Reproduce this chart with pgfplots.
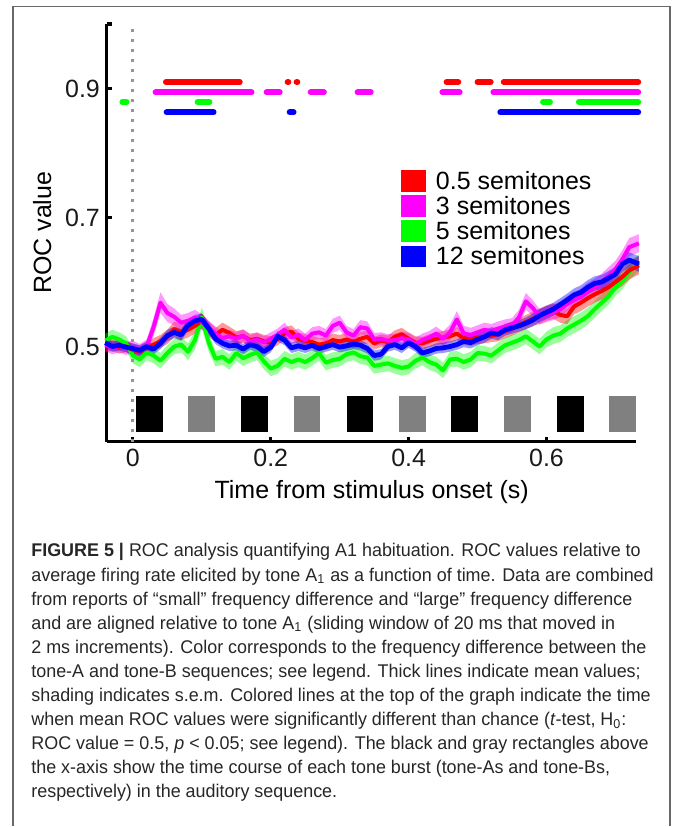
\documentclass[border=0pt]{standalone}
\usepackage{fontspec}
\setmainfont{Liberation Sans}
\newfontfamily\capfont{Liberation Sans}[FakeStretch=0.975]
\usepackage{pgfplots}
\usepackage{pgfplotstable}
\pgfplotsset{compat=1.18}
\usepgfplotslibrary{fillbetween}

\definecolor{cRed}{RGB}{255,0,0}
\definecolor{cMag}{RGB}{255,0,255}
\definecolor{cGrn}{RGB}{0,255,0}
\definecolor{cBlu}{RGB}{0,0,255}
\definecolor{toneB}{RGB}{128,128,128}
\definecolor{dotg}{RGB}{150,150,150}
\definecolor{frameg}{RGB}{105,105,105}

% mean ROC (r,m,g,b) and s.e.m. (re,me,ge,be)
\pgfplotstableread{
x      r     re    m     me    g     ge    b     be
-0.04  0.500 0.009 0.503 0.010 0.509 0.011 0.506 0.008
-0.03  0.502 0.009 0.498 0.010 0.515 0.011 0.500 0.008
-0.02  0.498 0.009 0.501 0.010 0.511 0.011 0.502 0.008
-0.01  0.500 0.009 0.497 0.010 0.505 0.011 0.499 0.008
0.00   0.495 0.009 0.499 0.010 0.486 0.012 0.497 0.008
0.01   0.492 0.009 0.494 0.010 0.480 0.012 0.494 0.008
0.02   0.498 0.009 0.500 0.011 0.491 0.012 0.500 0.008
0.03   0.503 0.010 0.530 0.014 0.486 0.012 0.496 0.008
0.04   0.508 0.010 0.568 0.016 0.478 0.012 0.505 0.009
0.05   0.515 0.011 0.552 0.014 0.490 0.012 0.517 0.009
0.06   0.527 0.012 0.546 0.013 0.500 0.012 0.522 0.009
0.07   0.522 0.012 0.537 0.012 0.503 0.012 0.518 0.009
0.08   0.526 0.012 0.540 0.012 0.492 0.013 0.533 0.009
0.09   0.532 0.012 0.545 0.012 0.510 0.014 0.540 0.009
0.10   0.540 0.012 0.538 0.012 0.545 0.016 0.542 0.009
0.11   0.527 0.012 0.529 0.011 0.506 0.014 0.528 0.009
0.12   0.518 0.011 0.520 0.011 0.481 0.012 0.512 0.008
0.13   0.526 0.011 0.513 0.010 0.484 0.012 0.505 0.008
0.14   0.521 0.010 0.516 0.010 0.476 0.012 0.501 0.008
0.15   0.514 0.010 0.512 0.010 0.490 0.012 0.502 0.008
0.16   0.516 0.010 0.517 0.010 0.482 0.012 0.496 0.008
0.17   0.510 0.010 0.508 0.010 0.487 0.012 0.503 0.008
0.18   0.512 0.010 0.511 0.010 0.491 0.012 0.500 0.008
0.19   0.508 0.010 0.506 0.010 0.477 0.012 0.492 0.008
0.20   0.506 0.010 0.512 0.010 0.466 0.012 0.499 0.008
0.21   0.512 0.010 0.518 0.010 0.470 0.012 0.516 0.008
0.22   0.520 0.010 0.526 0.011 0.481 0.012 0.510 0.008
0.23   0.523 0.010 0.514 0.010 0.476 0.012 0.498 0.008
0.24   0.512 0.010 0.518 0.010 0.480 0.012 0.501 0.008
0.25   0.509 0.010 0.510 0.010 0.476 0.012 0.498 0.008
0.26   0.507 0.010 0.520 0.010 0.482 0.012 0.502 0.008
0.27   0.503 0.010 0.522 0.010 0.490 0.012 0.497 0.008
0.28   0.505 0.010 0.517 0.010 0.475 0.012 0.500 0.008
0.29   0.510 0.010 0.532 0.011 0.479 0.012 0.503 0.008
0.30   0.508 0.010 0.537 0.011 0.481 0.012 0.499 0.008
0.31   0.511 0.010 0.522 0.010 0.488 0.012 0.501 0.008
0.32   0.507 0.010 0.517 0.010 0.491 0.012 0.504 0.008
0.33   0.512 0.010 0.530 0.011 0.485 0.012 0.502 0.008
0.34   0.515 0.010 0.528 0.011 0.483 0.012 0.497 0.008
0.35   0.505 0.010 0.511 0.010 0.470 0.012 0.486 0.008
0.36   0.509 0.010 0.512 0.010 0.472 0.012 0.488 0.008
0.37   0.507 0.010 0.509 0.010 0.474 0.012 0.500 0.008
0.38   0.515 0.010 0.510 0.010 0.470 0.012 0.503 0.008
0.39   0.519 0.010 0.513 0.010 0.467 0.012 0.498 0.008
0.40   0.512 0.010 0.511 0.010 0.469 0.012 0.506 0.008
0.41   0.506 0.010 0.504 0.010 0.478 0.012 0.500 0.008
0.42   0.505 0.010 0.510 0.010 0.483 0.012 0.490 0.008
0.43   0.509 0.010 0.514 0.010 0.476 0.012 0.493 0.008
0.44   0.512 0.010 0.520 0.011 0.472 0.012 0.497 0.008
0.45   0.514 0.010 0.512 0.011 0.463 0.012 0.498 0.008
0.46   0.516 0.010 0.522 0.012 0.480 0.012 0.500 0.008
0.47   0.520 0.010 0.542 0.013 0.481 0.012 0.503 0.008
0.48   0.513 0.010 0.520 0.012 0.476 0.012 0.508 0.009
0.49   0.511 0.010 0.518 0.011 0.480 0.012 0.506 0.009
0.50   0.514 0.010 0.522 0.011 0.490 0.012 0.511 0.009
0.51   0.515 0.010 0.526 0.011 0.489 0.012 0.515 0.009
0.52   0.517 0.010 0.524 0.011 0.486 0.012 0.521 0.009
0.53   0.519 0.011 0.528 0.011 0.494 0.012 0.519 0.009
0.54   0.524 0.011 0.531 0.011 0.502 0.012 0.526 0.009
0.55   0.528 0.011 0.533 0.011 0.506 0.012 0.529 0.009
0.56   0.533 0.011 0.545 0.012 0.510 0.012 0.532 0.009
0.57   0.538 0.011 0.570 0.013 0.516 0.012 0.536 0.009
0.58   0.543 0.011 0.560 0.012 0.508 0.012 0.541 0.010
0.59   0.547 0.012 0.546 0.012 0.500 0.012 0.548 0.010
0.60   0.552 0.012 0.550 0.012 0.511 0.012 0.553 0.010
0.61   0.555 0.012 0.553 0.012 0.517 0.013 0.558 0.010
0.62   0.549 0.012 0.558 0.012 0.520 0.013 0.565 0.010
0.63   0.547 0.012 0.566 0.012 0.528 0.013 0.572 0.010
0.64   0.562 0.012 0.572 0.012 0.534 0.013 0.580 0.010
0.65   0.568 0.013 0.578 0.012 0.540 0.013 0.584 0.011
0.66   0.575 0.013 0.586 0.013 0.547 0.013 0.592 0.011
0.67   0.581 0.013 0.592 0.013 0.558 0.013 0.598 0.011
0.68   0.586 0.013 0.600 0.013 0.568 0.013 0.600 0.011
0.69   0.592 0.013 0.610 0.013 0.578 0.013 0.606 0.011
0.70   0.600 0.013 0.620 0.013 0.592 0.013 0.612 0.011
0.71   0.608 0.014 0.635 0.014 0.602 0.013 0.628 0.012
0.72   0.618 0.014 0.654 0.014 0.616 0.013 0.634 0.012
0.734  0.626 0.014 0.660 0.014 0.630 0.013 0.628 0.012
}\roc

\newcommand{\bigf}{\fontsize{12.5pt}{14pt}\selectfont}
\newcommand{\capf}{\capfont\fontsize{9.2pt}{12pt}\selectfont}

\begin{document}
\begin{tikzpicture}
\begin{axis}[
  at={(53.5pt,-221pt)}, anchor=south west,
  scale only axis, width=265pt, height=209pt,
  xmin=-0.0377, xmax=0.7304, ymin=0.3527, ymax=1.0,
  clip=false,
  axis lines*=left,
  axis line style={line width=1.6pt, black, -},
  xtick={0,0.2,0.4,0.6},
  ytick={0.5,0.7,0.9,1.0}, yticklabels={0.5,0.7,0.9,{}},
  tick align=inside, major tick length=2.5pt,
  tick style={line width=1.6pt, black},
  ticklabel style={font=\bigf, text=black!90},
  /pgf/number format/assume math mode=true,
  xlabel={Time from stimulus onset (s)},
  ylabel={ROC value},
  label style={font=\bigf},
]
% onset marker
\addplot[dotg, line width=1.5pt, dash pattern=on 1.5pt off 3.5pt]
  coordinates {(0,0.3527) (0,0.994)};

% tone bursts: A black, B gray
\addplot[fill=black, draw=none] coordinates {(0.004,0.368) (0.043,0.368) (0.043,0.424) (0.004,0.424)};
\addplot[fill=toneB, draw=none] coordinates {(0.080,0.368) (0.119,0.368) (0.119,0.424) (0.080,0.424)};
\addplot[fill=black, draw=none] coordinates {(0.157,0.368) (0.196,0.368) (0.196,0.424) (0.157,0.424)};
\addplot[fill=toneB, draw=none] coordinates {(0.233,0.368) (0.272,0.368) (0.272,0.424) (0.233,0.424)};
\addplot[fill=black, draw=none] coordinates {(0.310,0.368) (0.349,0.368) (0.349,0.424) (0.310,0.424)};
\addplot[fill=toneB, draw=none] coordinates {(0.386,0.368) (0.425,0.368) (0.425,0.424) (0.386,0.424)};
\addplot[fill=black, draw=none] coordinates {(0.462,0.368) (0.501,0.368) (0.501,0.424) (0.462,0.424)};
\addplot[fill=toneB, draw=none] coordinates {(0.539,0.368) (0.578,0.368) (0.578,0.424) (0.539,0.424)};
\addplot[fill=black, draw=none] coordinates {(0.615,0.368) (0.654,0.368) (0.654,0.424) (0.615,0.424)};
\addplot[fill=toneB, draw=none] coordinates {(0.691,0.368) (0.730,0.368) (0.730,0.424) (0.691,0.424)};

% s.e.m. bands
\addplot[name path=gU, draw=none] table[x=x, y expr=\thisrow{g}+\thisrow{ge}] {\roc};
\addplot[name path=gL, draw=none] table[x=x, y expr=\thisrow{g}-\thisrow{ge}] {\roc};
\addplot[fill=cGrn, fill opacity=0.4, draw=none] fill between[of=gU and gL];
\addplot[name path=rU, draw=none] table[x=x, y expr=\thisrow{r}+\thisrow{re}] {\roc};
\addplot[name path=rL, draw=none] table[x=x, y expr=\thisrow{r}-\thisrow{re}] {\roc};
\addplot[fill=cRed, fill opacity=0.4, draw=none] fill between[of=rU and rL];
\addplot[name path=mU, draw=none] table[x=x, y expr=\thisrow{m}+\thisrow{me}] {\roc};
\addplot[name path=mL, draw=none] table[x=x, y expr=\thisrow{m}-\thisrow{me}] {\roc};
\addplot[fill=cMag, fill opacity=0.4, draw=none] fill between[of=mU and mL];
\addplot[name path=bU, draw=none] table[x=x, y expr=\thisrow{b}+\thisrow{be}] {\roc};
\addplot[name path=bL, draw=none] table[x=x, y expr=\thisrow{b}-\thisrow{be}] {\roc};
\addplot[fill=cBlu, fill opacity=0.4, draw=none] fill between[of=bU and bL];

% means
\addplot[cGrn, line width=2pt, line join=round] table[x=x, y=g] {\roc};
\addplot[cRed, line width=2pt, line join=round] table[x=x, y=r] {\roc};
\addplot[cMag, line width=2pt, line join=round] table[x=x, y=m] {\roc};
\addplot[cBlu, line width=2.4pt, line join=round] table[x=x, y=b] {\roc};

% significance (p < 0.05) runs
\addplot[cRed, line width=3pt, line cap=round, unbounded coords=jump] coordinates {
  (0.048,0.910) (0.155,0.910) (nan,nan)
  (0.2245,0.910) (0.2255,0.910) (nan,nan)
  (0.2375,0.910) (0.2385,0.910) (nan,nan)
  (0.455,0.910) (0.472,0.910) (nan,nan)
  (0.500,0.910) (0.519,0.910) (nan,nan)
  (0.538,0.910) (0.733,0.910)};
\addplot[cMag, line width=3pt, line cap=round, unbounded coords=jump] coordinates {
  (0.033,0.894) (0.172,0.894) (nan,nan)
  (0.194,0.894) (0.213,0.894) (nan,nan)
  (0.258,0.894) (0.277,0.894) (nan,nan)
  (0.326,0.894) (0.345,0.894) (nan,nan)
  (0.449,0.894) (0.474,0.894) (nan,nan)
  (0.523,0.894) (0.733,0.894)};
\addplot[cGrn, line width=3pt, line cap=round, unbounded coords=jump] coordinates {
  (-0.0152,0.879) (-0.0094,0.879) (nan,nan)
  (0.094,0.879) (0.111,0.879) (nan,nan)
  (0.595,0.879) (0.605,0.879) (nan,nan)
  (0.647,0.879) (0.733,0.879)};
\addplot[cBlu, line width=3pt, line cap=round, unbounded coords=jump] coordinates {
  (0.049,0.863) (0.117,0.863) (nan,nan)
  (0.2275,0.863) (0.233,0.863) (nan,nan)
  (0.533,0.863) (0.733,0.863)};
\end{axis}

% key
\fill[cRed] (200.5pt,-85pt) rectangle (213pt,-96pt);
\fill[cMag] (200.5pt,-97.5pt) rectangle (213pt,-108.5pt);
\fill[cGrn] (200.5pt,-110pt) rectangle (213pt,-121pt);
\fill[cBlu] (200.5pt,-123pt) rectangle (213pt,-133.5pt);
\node[anchor=west, inner sep=0, font=\bigf] at (218pt,-90.5pt) {0.5 semitones};
\node[anchor=west, inner sep=0, font=\bigf] at (218pt,-103pt) {3 semitones};
\node[anchor=west, inner sep=0, font=\bigf] at (218pt,-115.5pt) {5 semitones};
\node[anchor=west, inner sep=0, font=\bigf] at (218pt,-128pt) {12 semitones};

% frame
\draw[frameg, line width=0.8pt] (6.6pt,-413.5pt) -- (6.6pt,-3.3pt) -- (335.2pt,-3.3pt) -- (335.2pt,-413.5pt);

% caption
\begin{scope}[every node/.style={anchor=base west, inner sep=0, font=\capf, text=black!85}]
\node at (15.5pt,-278.75pt) {\textbf{FIGURE 5 |} ROC analysis quantifying A1 habituation. ROC values relative to};
\node at (15.5pt,-290.8pt) {average firing rate elicited by tone A\textsubscript{1} as a function of time. Data are combined};
\node at (15.5pt,-302.85pt) {from reports of “small” frequency difference and “large” frequency difference};
\node at (15.5pt,-314.9pt) {and are aligned relative to tone A\textsubscript{1} (sliding window of 20 ms that moved in};
\node at (15.5pt,-326.95pt) {2 ms increments). Color corresponds to the frequency difference between the};
\node at (15.5pt,-339pt) {tone-A and tone-B sequences; see legend. Thick lines indicate mean values;};
\node at (15.5pt,-351.05pt) {shading indicates s.e.m. Colored lines at the top of the graph indicate the time};
\node at (15.5pt,-363.1pt) {when mean ROC values were significantly different than chance (\textit{t}-test, H\textsubscript{0}:};
\node at (15.5pt,-375.15pt) {ROC value = 0.5, \textit{p} < 0.05; see legend). The black and gray rectangles above};
\node at (15.5pt,-387.2pt) {the x-axis show the time course of each tone burst (tone-As and tone-Bs,};
\node at (15.5pt,-399.25pt) {respectively) in the auditory sequence.};
\end{scope}

% page extent
\path (0,0) rectangle (337.5pt,-413.5pt);
\end{tikzpicture}
\end{document}
